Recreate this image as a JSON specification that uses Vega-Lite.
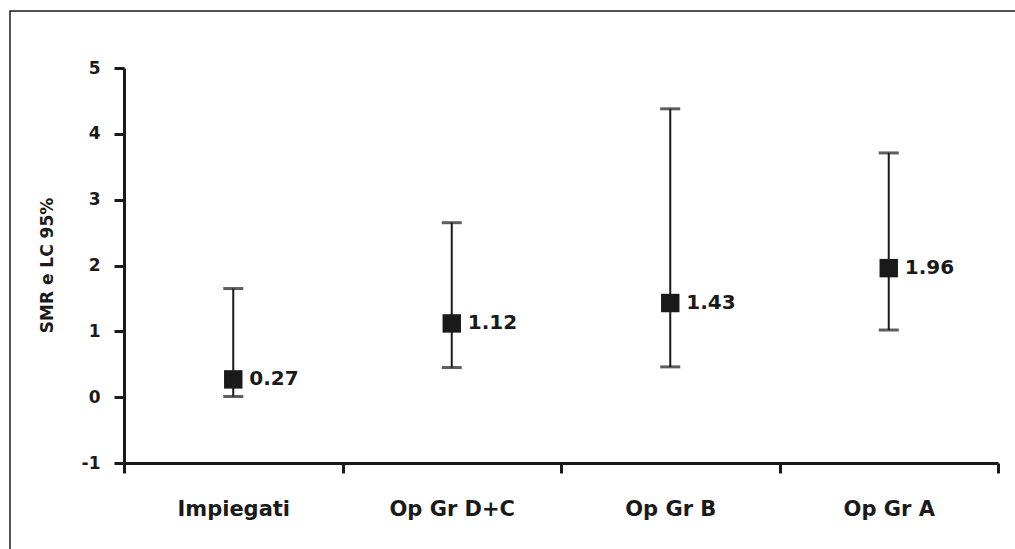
{
  "$schema": "https://vega.github.io/schema/vega-lite/v6.json",
  "autosize": {"type": "none"},
  "padding": {"left": 10, "top": 11, "right": 0, "bottom": 0},
  "width": 1010,
  "height": 545,
  "background": "white",
  "config": {
    "view": {"stroke": "#1a1a1a", "strokeWidth": 1.5},
    "font": "DejaVu Sans"
  },
  "data": {
    "values": [
      {"group": "Impiegati", "smr": 0.27, "low": 0.01, "high": 1.65},
      {"group": "Op Gr D+C", "smr": 1.12, "low": 0.45, "high": 2.65},
      {"group": "Op Gr B", "smr": 1.43, "low": 0.46, "high": 4.38},
      {"group": "Op Gr A", "smr": 1.96, "low": 1.02, "high": 3.71}
    ]
  },
  "encoding": {
    "x": {
      "field": "group",
      "type": "nominal",
      "sort": null,
      "scale": {"range": [114, 988], "paddingInner": 0, "paddingOuter": 0},
      "axis": {
        "title": null,
        "orient": "bottom",
        "offset": -93,
        "tickBand": "extent",
        "labelAngle": 0,
        "labelFont": "DejaVu Sans",
        "labelFontWeight": "bold",
        "labelFontSize": 21,
        "labelColor": "#1a1a1a",
        "labelPadding": 25,
        "domainColor": "#1a1a1a",
        "domainWidth": 3,
        "tickColor": "#1a1a1a",
        "tickWidth": 3,
        "tickSize": 10,
        "grid": false
      }
    }
  },
  "layer": [
    {
      "mark": {"type": "rule", "color": "#1a1a1a", "strokeWidth": 2},
      "encoding": {
        "y": {
          "field": "low",
          "type": "quantitative",
          "scale": {"domain": [-1, 5], "range": [452, 57], "zero": false, "nice": false},
          "axis": {
            "title": "SMR e LC 95%",
            "orient": "left",
            "offset": -114,
            "values": [-1, 0, 1, 2, 3, 4, 5],
            "labelExpr": "'' + datum.value",
            "grid": false,
            "labelFont": "DejaVu Sans",
            "labelFontWeight": "bold",
            "labelFontSize": 17,
            "labelColor": "#1a1a1a",
            "labelPadding": 14,
            "domainColor": "#1a1a1a",
            "domainWidth": 3,
            "tickColor": "#1a1a1a",
            "tickWidth": 3,
            "tickSize": 10,
            "titleFont": "DejaVu Sans",
            "titleFontWeight": "bold",
            "titleFontSize": 17,
            "titleColor": "#1a1a1a",
            "titleAngle": -90,
            "titleAlign": "center",
            "titleBaseline": "middle",
            "titleX": -77,
            "titleY": 254
          }
        },
        "y2": {"field": "high"}
      }
    },
    {
      "mark": {"type": "tick", "color": "#1a1a1a", "thickness": 3, "size": 20, "orient": "horizontal"},
      "encoding": {"y": {"field": "low", "type": "quantitative"}}
    },
    {
      "mark": {"type": "tick", "color": "#1a1a1a", "thickness": 3, "size": 20, "orient": "horizontal"},
      "encoding": {"y": {"field": "high", "type": "quantitative"}}
    },
    {
      "mark": {"type": "point", "shape": "square", "filled": true, "color": "#1a1a1a", "size": 340, "opacity": 1},
      "encoding": {"y": {"field": "smr", "type": "quantitative"}}
    },
    {
      "mark": {"type": "text", "align": "left", "baseline": "middle", "dx": 16, "font": "DejaVu Sans", "fontWeight": "bold", "fontSize": 20, "color": "#1a1a1a"},
      "encoding": {
        "y": {"field": "smr", "type": "quantitative"},
        "text": {"field": "smr", "type": "quantitative", "format": ".2f"}
      }
    }
  ]
}
